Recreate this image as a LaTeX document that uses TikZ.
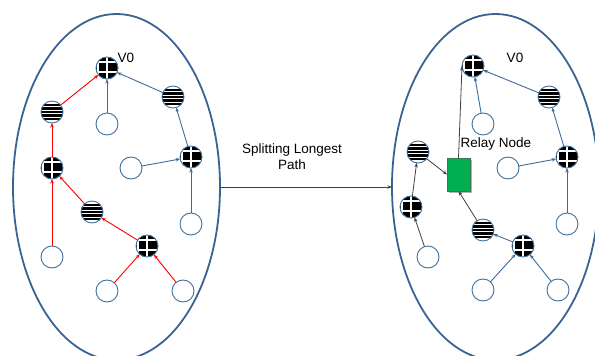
\documentclass[tikz,border=0pt]{standalone}
\usepackage{fontspec}
\setmainfont{Liberation Sans}
\usetikzlibrary{arrows.meta,shapes.geometric,shadows}
\definecolor{ellblue}{HTML}{3A6394}
\definecolor{nodeblue}{HTML}{41719C}
\definecolor{edgeblue}{HTML}{3D6A9E}
\definecolor{edgegray}{HTML}{404040}
\definecolor{relaygreen}{HTML}{00B050}
\definecolor{relayborder}{HTML}{3B7A50}
\tikzset{
  every node/.style={inner sep=0pt,outer sep=0pt},
  lbl/.style={font=\fontsize{13.5}{16}\selectfont, text=black, align=center},
  emptynode/.style={circle, minimum size=22pt, draw=nodeblue, line width=0.9pt, fill=white},
  gridnode/.style={circle, minimum size=22pt, draw=nodeblue, line width=0.9pt, fill=black,
    path picture={
      \draw[white, line width=1.1pt]
        ([xshift=0pt,yshift=-13pt]path picture bounding box.center) -- ++(0pt,26pt)
        ([xshift=-9pt,yshift=-13pt]path picture bounding box.center) -- ++(0pt,26pt)
        ([xshift=-13pt,yshift=-4pt]path picture bounding box.center) -- ++(26pt,0pt)
        ([xshift=-13pt,yshift=6pt]path picture bounding box.center) -- ++(26pt,0pt);
    }},
  stripenode/.style={circle, minimum size=22pt, draw=nodeblue, line width=0.9pt, fill=white,
    path picture={
      \foreach \k in {-2,...,2}{
        \fill[black] ([xshift=-13pt,yshift=\k*3.5pt-1.05pt]path picture bounding box.center) rectangle ++(26pt,2.1pt);
      }
    }},
  bigell/.style={ellipse, draw=ellblue, line width=1.8pt, minimum width=207pt, minimum height=346pt},
  relaybox/.style={rectangle, minimum width=23pt, minimum height=33pt, fill=relaygreen, draw=relayborder, line width=0.8pt,
    drop shadow={shadow xshift=2.2pt, shadow yshift=-2.2pt, fill=black!30, opacity=1}},
  redarr/.style={draw=red, line width=0.9pt, -{Stealth[length=4.5pt,width=3.5pt]}},
  bluearr/.style={draw=edgeblue, line width=0.9pt, -{Stealth[length=4.5pt,width=3.5pt]}},
  grayarr/.style={draw=edgegray, line width=0.8pt, -{Stealth[length=4.5pt,width=3.5pt]}},
}
\begin{document}
\begin{tikzpicture}[x=1pt,y=-1pt]
\useasboundingbox (0,0) rectangle (595,356);
\begin{scope}
\clip (0,0) rectangle (595,356);
% ellipses
\node[bigell] (EL) at (116.5,187) {};
\node[bigell] (ER) at (495.5,187) {};
\end{scope}

% main connector
\node[lbl] (split) at (292,157) {Splitting Longest\\Path};
\draw[grayarr] (EL.east) -- (ER.west);

% ---------- left graph ----------
\node[gridnode]   (V0) at (107,68) {};
\node[lbl] (V0lab) at (126,58) {V0};
\node[stripenode] (A) at (52,112) {};
\node[emptynode]  (B) at (107,124) {};
\node[stripenode] (C) at (173,97) {};
\node[gridnode]   (D) at (52,168) {};
\node[emptynode]  (E) at (131,168) {};
\node[gridnode]   (F) at (191,157) {};
\node[stripenode] (G) at (92,212) {};
\node[emptynode]  (H) at (191,224) {};
\node[gridnode]   (I) at (147,246) {};
\node[emptynode]  (J) at (52,257) {};
\node[emptynode]  (K) at (107,291) {};
\node[emptynode]  (L) at (183,291) {};

\draw[redarr] (A) -- (V0);
\draw[redarr] (D) -- (A);
\draw[redarr] (G) -- (D);
\draw[redarr] (J) -- (D);
\draw[redarr] (I) -- (G);
\draw[redarr] (K) -- (I);
\draw[redarr] (L) -- (I);
\draw[bluearr] (B) -- (V0);
\draw[bluearr] (C) -- (V0);
\draw[bluearr] (F) -- (C);
\draw[bluearr] (E) -- (F);
\draw[bluearr] (H) -- (F);

% ---------- right graph ----------
\node[gridnode]   (V0r) at (473,66) {};
\node[lbl] (V0rlab) at (515,58) {V0};
\node[stripenode] (Cr) at (549,97) {};
\node[emptynode]  (Br) at (483,124) {};
\node[relaybox]   (relay) at (458.5,174.5) {};
\node[lbl] (relaylab) at (496,144) {Relay Node};
\node[stripenode] (Ar) at (418,152) {};
\node[emptynode]  (Er) at (508,168) {};
\node[gridnode]   (Fr) at (567,157) {};
\node[gridnode]   (Dr) at (411,207) {};
\node[emptynode]  (Hr) at (567,224) {};
\node[stripenode] (Gr) at (483,230) {};
\node[gridnode]   (Ir) at (523,246) {};
\node[emptynode]  (Jr) at (428,257) {};
\node[emptynode]  (Kr) at (483,290) {};
\node[emptynode]  (Lr) at (558,290) {};

\draw[grayarr] (relay.north) -- (V0r.west);
\draw[grayarr] (Ar) -- (relay.west);
\draw[grayarr] (Gr) -- (relay.south);
\draw[grayarr] (Dr) -- (Ar);
\draw[grayarr] (Jr) -- (Dr);
\draw[bluearr] (Ir) -- (Gr);
\draw[bluearr] (Kr) -- (Ir);
\draw[bluearr] (Lr) -- (Ir);
\draw[bluearr] (Br) -- (V0r);
\draw[bluearr] (Cr) -- (V0r);
\draw[bluearr] (Fr) -- (Cr);
\draw[bluearr] (Er) -- (Fr);
\draw[bluearr] (Hr) -- (Fr);
\end{tikzpicture}
\end{document}
